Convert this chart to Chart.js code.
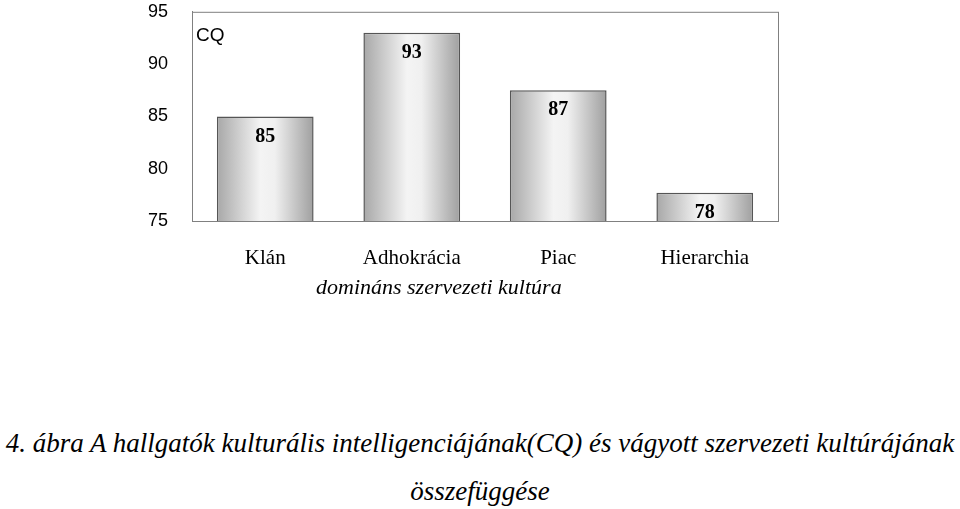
<!DOCTYPE html>
<html><head><meta charset="utf-8">
<script src="https://cdn.jsdelivr.net/npm/chart.js@4"></script>
<style>
body{margin:0;width:960px;height:509px;background:#fff;position:relative;overflow:hidden}
#wrap{position:absolute;left:0;top:-15px;width:960px;height:296px}
.t{position:absolute;font-family:"Liberation Serif",serif;font-style:italic;color:#000;white-space:nowrap}
</style></head><body>
<div id="wrap"><canvas id="c"></canvas></div>
<div class="t" style="left:316px;top:274px;font-size:22px">domináns szervezeti kultúra</div>
<div class="t" style="left:0;width:960px;text-align:center;top:428px;font-size:27px">4. ábra A hallgatók kulturális intelligenciájának(CQ) és vágyott szervezeti kultúrájának</div>
<div class="t" style="left:0;width:960px;text-align:center;top:476px;font-size:27px">összefüggése</div>
<script>
const categories=["Klán","Adhokrácia","Piac","Hierarchia"];
const values=[85,93,87.5,77.7];
const valueLabels=["85","93","87","78"];
const yTicks=[75,80,85,90,95];

const deco={id:'deco',
 afterDatasetsDraw(chart){
  const {ctx,chartArea:a}=chart;
  ctx.save();
  ctx.strokeStyle='#808080';ctx.lineWidth=1;
  ctx.strokeRect(a.left+0.5,a.top+0.5,a.right-a.left,a.bottom-a.top);
  ctx.fillStyle='#000';ctx.font='bold 20px "Liberation Serif"';ctx.textAlign='center';ctx.textBaseline='middle';
  chart.getDatasetMeta(0).data.forEach((b,i)=>{ctx.fillText(valueLabels[i],b.x,b.y+20);});
  ctx.font='19px "Liberation Sans"';ctx.textAlign='left';
  ctx.fillText('CQ',a.left+4,a.top+24);
  ctx.restore();
 }};

function grad(c){
 const ch=c.chart,a=ch.chartArea;
 if(!a)return '#ccc';
 const x=ch.scales.x.getPixelForValue(c.dataIndex);
 const w=96;
 const g=ch.ctx.createLinearGradient(x-w/2,0,x+w/2,0);
 g.addColorStop(0,'#a8a8a8');g.addColorStop(0.45,'#f4f4f4');g.addColorStop(0.6,'#f0f0f0');g.addColorStop(1,'#a0a0a0');
 return g;
}

new Chart(document.getElementById('c'),{
 type:'bar',
 data:{labels:categories,datasets:[{data:values,backgroundColor:grad,borderColor:'#555',borderWidth:1.5,borderSkipped:'bottom',categoryPercentage:1,barPercentage:0.66}]},
 options:{responsive:true,maintainAspectRatio:false,animation:false,
  layout:{padding:{top:11,right:182,left:0,bottom:0}},
  plugins:{legend:{display:false},tooltip:{enabled:false}},
  scales:{
   x:{grid:{display:false},border:{display:false},
      ticks:{color:'#000',font:{family:'"Liberation Serif"',size:21},padding:17},
      afterFit(s){s.height=60;}},
   y:{min:75,max:95,grid:{display:false,drawTicks:true},border:{color:'#808080'},
      afterBuildTicks(s){s.ticks=yTicks.map(v=>({value:v}));},
      ticks:{color:'#000',font:{family:'"Liberation Sans"',size:18},padding:16},
      afterFit(s){s.width=192;}}
  }},
 plugins:[deco]
});
</script></body></html>
